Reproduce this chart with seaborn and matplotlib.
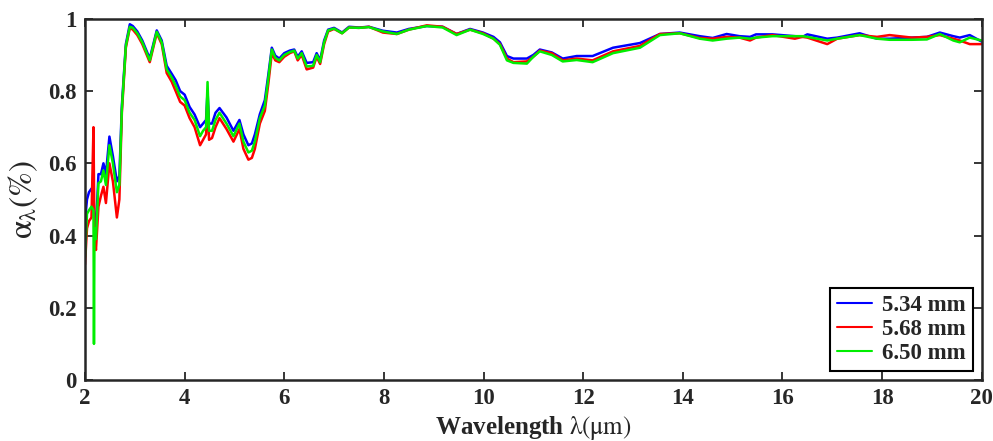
import matplotlib
matplotlib.use('Agg')
import matplotlib.pyplot as plt
import matplotlib.ticker as tick
import seaborn as sns
import pandas as pd

wavelength = [2.00, 2.04, 2.08, 2.13, 2.17, 2.18, 2.19, 2.22, 2.27, 2.32,
              2.37, 2.42, 2.49, 2.56, 2.64, 2.69, 2.74, 2.82, 2.90, 2.96,
              3.05, 3.15, 3.30, 3.44, 3.54, 3.64, 3.74, 3.82, 3.91, 4.00,
              4.10, 4.20, 4.31, 4.37, 4.43, 4.46, 4.49, 4.55, 4.62, 4.70,
              4.84, 4.98, 5.10, 5.18, 5.28, 5.35, 5.41, 5.51, 5.61, 5.68,
              5.75, 5.82, 5.90, 6.00, 6.11, 6.20, 6.27, 6.35, 6.45, 6.58,
              6.65, 6.72, 6.80, 6.88, 7.00, 7.16, 7.30, 7.50, 7.70, 7.98,
              8.26, 8.50, 8.86, 9.18, 9.46, 9.73, 9.99, 10.20, 10.33, 10.47,
              10.60, 10.87, 11.00, 11.13, 11.37, 11.59, 11.87, 12.19, 12.60, 13.14,
              13.54, 13.94, 14.34, 14.60, 14.88, 15.14, 15.35, 15.47, 15.80, 16.25,
              16.40, 16.50, 16.90, 17.10, 17.55, 17.90, 18.15, 18.60, 18.90, 19.16,
              19.43, 19.56, 19.76, 20.00]

abs_534 = [0.44, 0.50, 0.52, 0.53, 0.52, 0.47, 0.44, 0.42, 0.57, 0.57,
           0.60, 0.57, 0.674, 0.62, 0.55, 0.565, 0.76, 0.93, 0.985, 0.98,
           0.965, 0.94, 0.89, 0.968, 0.94, 0.87, 0.848, 0.83, 0.80, 0.79,
           0.756, 0.735, 0.70, 0.71, 0.72, 0.80, 0.71, 0.71, 0.74, 0.753,
           0.727, 0.69, 0.72, 0.68, 0.65, 0.655, 0.68, 0.736, 0.775, 0.845,
           0.92, 0.898, 0.89, 0.905, 0.912, 0.915, 0.895, 0.91, 0.878, 0.88,
           0.905, 0.885, 0.94, 0.97, 0.975, 0.962, 0.978, 0.976, 0.978, 0.967,
           0.962, 0.972, 0.98, 0.978, 0.958, 0.972, 0.962, 0.95, 0.935, 0.897,
           0.89, 0.89, 0.90, 0.915, 0.907, 0.89, 0.897, 0.897, 0.92, 0.933,
           0.958, 0.962, 0.952, 0.947, 0.958, 0.952, 0.95, 0.957, 0.957, 0.952,
           0.95, 0.957, 0.945, 0.948, 0.96, 0.945, 0.945, 0.948, 0.95, 0.962,
           0.952, 0.948, 0.955, 0.937]

abs_568 = [0.32, 0.42, 0.44, 0.45, 0.70, 0.55, 0.40, 0.36, 0.48, 0.51,
           0.535, 0.49, 0.60, 0.55, 0.45, 0.50, 0.74, 0.92, 0.975, 0.97,
           0.955, 0.93, 0.88, 0.96, 0.93, 0.85, 0.826, 0.80, 0.77, 0.76,
           0.725, 0.70, 0.65, 0.665, 0.68, 0.78, 0.665, 0.67, 0.70, 0.725,
           0.695, 0.66, 0.695, 0.64, 0.61, 0.615, 0.64, 0.71, 0.745, 0.82,
           0.905, 0.885, 0.88, 0.895, 0.905, 0.91, 0.885, 0.90, 0.86, 0.865,
           0.895, 0.875, 0.93, 0.965, 0.972, 0.96, 0.976, 0.975, 0.978, 0.962,
           0.958, 0.97, 0.982, 0.978, 0.958, 0.97, 0.96, 0.945, 0.93, 0.89,
           0.88, 0.882, 0.895, 0.912, 0.905, 0.885, 0.89, 0.885, 0.91, 0.925,
           0.958, 0.96, 0.947, 0.945, 0.95, 0.948, 0.94, 0.948, 0.955, 0.945,
           0.95, 0.948, 0.93, 0.945, 0.955, 0.95, 0.955, 0.948, 0.95, 0.955,
           0.945, 0.94, 0.93, 0.93]

abs_650 = [0.34, 0.46, 0.47, 0.48, 0.47, 0.10, 0.42, 0.39, 0.545, 0.55,
           0.58, 0.54, 0.65, 0.60, 0.52, 0.54, 0.75, 0.925, 0.978, 0.975,
           0.96, 0.935, 0.885, 0.964, 0.935, 0.86, 0.838, 0.815, 0.785, 0.775,
           0.74, 0.72, 0.675, 0.69, 0.70, 0.825, 0.69, 0.69, 0.72, 0.74,
           0.71, 0.675, 0.71, 0.66, 0.63, 0.635, 0.66, 0.725, 0.76, 0.835,
           0.915, 0.892, 0.885, 0.90, 0.908, 0.912, 0.89, 0.905, 0.868, 0.87,
           0.90, 0.88, 0.935, 0.968, 0.973, 0.96, 0.976, 0.975, 0.977, 0.965,
           0.958, 0.97, 0.98, 0.976, 0.955, 0.97, 0.958, 0.945, 0.928, 0.885,
           0.878, 0.876, 0.895, 0.91, 0.90, 0.882, 0.886, 0.88, 0.905, 0.92,
           0.955, 0.96, 0.945, 0.94, 0.945, 0.948, 0.945, 0.948, 0.952, 0.952,
           0.952, 0.95, 0.94, 0.945, 0.955, 0.945, 0.942, 0.942, 0.943, 0.958,
           0.94, 0.935, 0.948, 0.94]

thickness = ['5.34 mm', '5.68 mm', '6.50 mm']
colors = ['#0000ff', '#ff0000', '#00ee00']

df = pd.concat([
    pd.DataFrame({'wavelength': wavelength, 'absorptance': vals, 'thickness': name})
    for name, vals in zip(thickness, [abs_534, abs_568, abs_650])
], ignore_index=True)

sns.set_style('ticks')
plt.rcParams['font.family'] = ['Liberation Serif', 'DejaVu Serif']
plt.rcParams['font.weight'] = 'normal'
plt.rcParams['mathtext.fontset'] = 'stix'

fig = plt.figure(figsize=(9.93, 4.41), dpi=100)
ax = fig.add_axes([0.0856, 0.1383, 0.903, 0.819])

sns.lineplot(data=df, x='wavelength', y='absorptance', hue='thickness',
             palette=dict(zip(thickness, colors)), estimator=None, sort=False,
             linewidth=1.8, ax=ax)

ax.set_xlim(2, 20)
ax.set_ylim(0, 1)
ax.xaxis.set_major_locator(tick.MultipleLocator(2))
ax.yaxis.set_major_locator(tick.MultipleLocator(0.2))
ax.yaxis.set_major_formatter(tick.FuncFormatter(lambda v, p: f'{v:g}'))
ax.tick_params(direction='in', length=6, width=1.3, top=True, right=True,
               labelsize=16.5, pad=6)
for lab in ax.get_xticklabels() + ax.get_yticklabels():
    lab.set_fontweight('bold')
for sp in ax.spines.values():
    sp.set_linewidth(1.8)
    sp.set_visible(True)

ax.set_xlabel(r'Wavelength $\mathrm{\lambda(\mu m)}$', fontsize=18,
              fontweight='bold', labelpad=3)
ax.set_ylabel(r'$\mathrm{\alpha_{\lambda}(\%)}$', fontsize=24, labelpad=6)

leg = ax.legend(loc='lower right', prop={'size': 16.5, 'weight': 'bold'},
                frameon=True, fancybox=False,
                edgecolor='black', handlelength=1.5, labelspacing=0.12,
                borderpad=0.3, borderaxespad=0.4, handletextpad=0.45)
leg.get_frame().set_linewidth(1.5)
leg.get_frame().set_alpha(1)
for line in leg.get_lines():
    line.set_linewidth(1.5)

fig.savefig('out.png', dpi=100)
